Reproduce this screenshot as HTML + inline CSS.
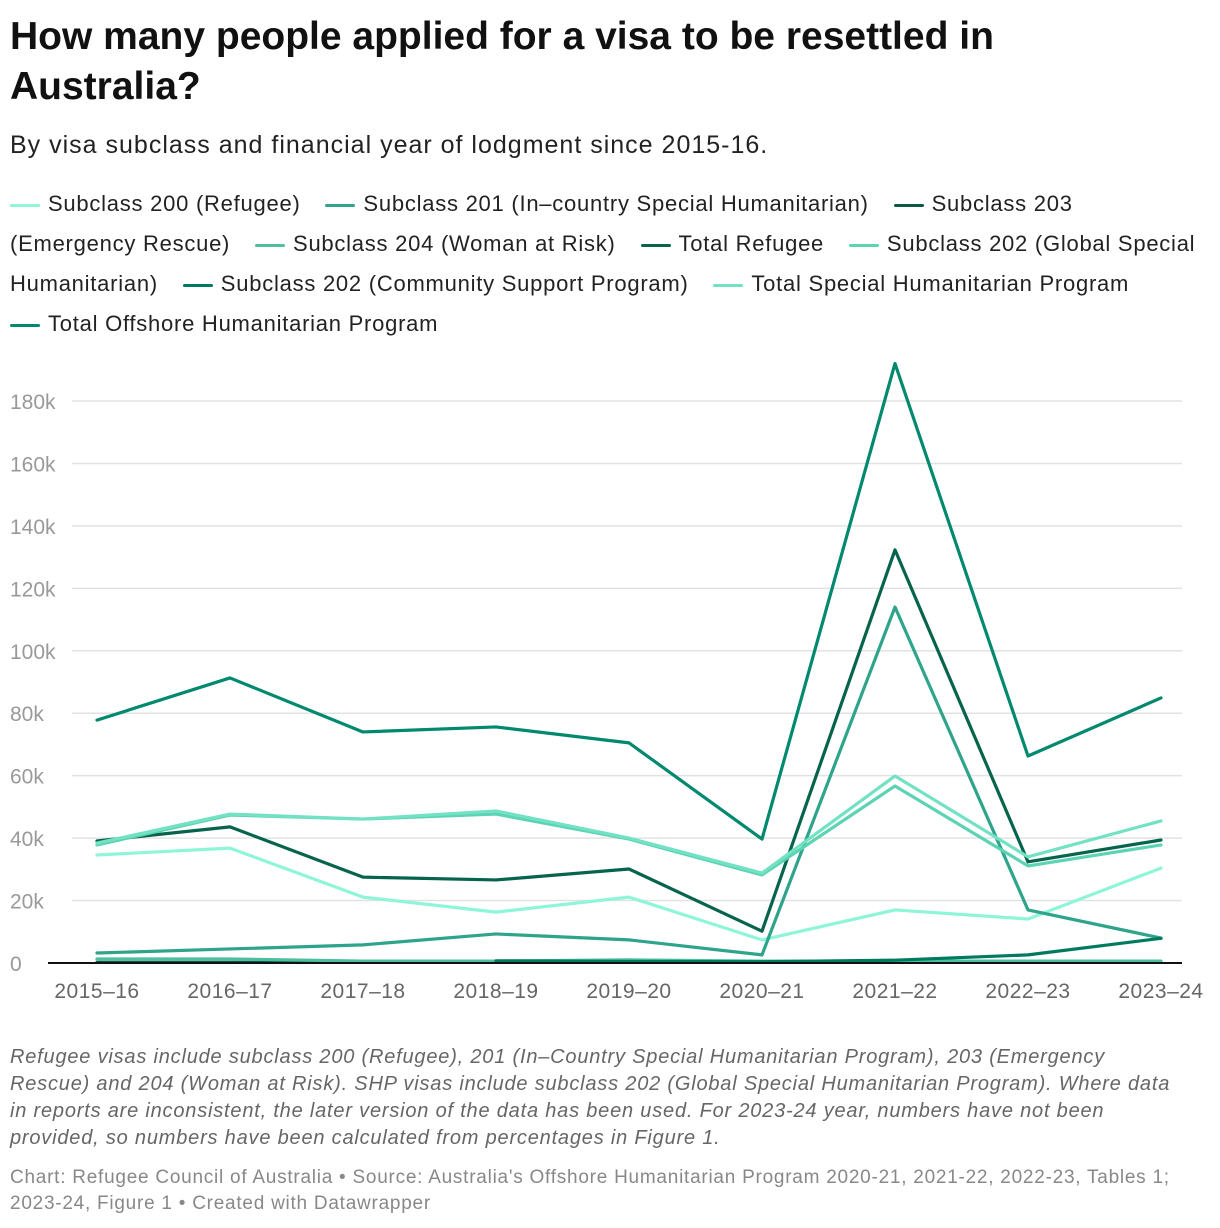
<!DOCTYPE html>
<html><head><meta charset="utf-8"><style>
body{margin:0;background:#fff;font-family:"Liberation Sans",sans-serif;color:#222;}
#wrap{position:relative;width:1220px;height:1228px;overflow:hidden}
h1{position:absolute;left:10px;top:12px;margin:0;font-size:39px;line-height:50px;font-weight:bold;color:#111;width:1080px;letter-spacing:0px}
.sub{position:absolute;left:10px;top:131px;font-size:25px;color:#222;letter-spacing:1px}
.legend{position:absolute;left:10px;top:184px;width:1190px;font-size:22px;line-height:40px;color:#222;letter-spacing:0.75px}
.li{display:inline;margin-right:18px}
.nw{white-space:nowrap}
.sw{display:inline-block;width:30px;height:3px;vertical-align:middle;margin-right:8px;border-radius:2px}
.note{position:absolute;left:10px;top:1044px;width:1180px;font-size:20px;line-height:27px;font-style:italic;color:#666;letter-spacing:0.8px}
.src{position:absolute;left:10px;top:1165px;width:1200px;font-size:19px;line-height:26px;color:#888;letter-spacing:0.75px}
</style></head><body><div id="wrap">
<h1>How many people applied for a visa to be resettled in Australia?</h1>
<div class="sub">By visa subclass and financial year of lodgment since 2015-16.</div>
<div class="legend" id="legend"></div>
<svg id="chart" width="1220" height="1228" style="position:absolute;left:0;top:0"></svg>
<div class="note">Refugee visas include subclass 200 (Refugee), 201 (In–Country Special Humanitarian Program), 203 (Emergency Rescue) and 204 (Woman at Risk). SHP visas include subclass 202 (Global Special Humanitarian Program). Where data in reports are inconsistent, the later version of the data has been used. For 2023-24 year, numbers have not been provided, so numbers have been calculated from percentages in Figure 1.</div>
<div class="src">Chart: Refugee Council of Australia • Source: Australia's Offshore Humanitarian Program 2020-21, 2021-22, 2022-23, Tables 1; 2023-24, Figure 1 • Created with Datawrapper</div>
</div>
<script>
const categories=["2015–16","2016–17","2017–18","2018–19","2019–20","2020–21","2021–22","2022–23","2023–24"];
const yTicks=[0,20,40,60,80,100,120,140,160,180];
const seriesNames=["Subclass 200 (Refugee)","Subclass 201 (In–country Special Humanitarian)","Subclass 203 (Emergency Rescue)","Subclass 204 (Woman at Risk)","Total Refugee","Subclass 202 (Global Special Humanitarian)","Subclass 202 (Community Support Program)","Total Special Humanitarian Program","Total Offshore Humanitarian Program"];
const seriesColors=["#8ef5d9","#2ea48a","#0b5a47","#4dbf9f","#06634c","#5cd3b3","#007a5e","#73e2c4","#00896e"];
const s200=[34.6,36.8,21.1,16.3,21.1,7.4,17,14.1,30.4];
const s201=[3.2,4.5,5.8,9.3,7.4,2.6,114,17,8];
const s203=[0.2,0.2,0.2,0.2,0.2,0.2,0.2,0.2,0.2];
const s204=[1.3,1.3,0.6,0.6,1,0.6,0.6,0.6,0.6];
const totalRefugee=[39.1,43.6,27.5,26.6,30.1,10.2,132.3,32.4,39.4];
const s202Global=[37.8,47.4,46.1,47.7,39.7,28.2,56.7,31.1,37.8];
const s202CSP=[null,null,null,0.7,0.5,0.4,0.9,2.6,7.9];
const totalSHP=[38.4,47.7,46.1,48.7,40,28.8,59.9,34,45.5];
const totalOffshore=[77.8,91.3,74,75.6,70.5,39.7,192,66.3,84.9];
const allSeries=[s200,s201,s203,s204,totalRefugee,s202Global,s202CSP,totalSHP,totalOffshore];
const NS="http://www.w3.org/2000/svg";
const svg=document.getElementById('chart');
const x0=97,x1=1161,y0=963,pxPerK=562/180;
const xs=i=>x0+i*(x1-x0)/(categories.length-1);
const ys=v=>y0-v*pxPerK;
function mk(t,a){const e=document.createElementNS(NS,t);for(const k in a)e.setAttribute(k,a[k]);svg.appendChild(e);return e;}
yTicks.forEach(t=>{
 if(t>0){const g=mk('line',{x1:72,x2:1182,y1:ys(t),y2:ys(t),stroke:'#e2e2e2','stroke-width':1.5});
 
 }
 const tx=mk('text',{x:10,y:ys(t)+8,'font-size':21,fill:'#999','font-family':'Liberation Sans, sans-serif'});
 tx.textContent=t===0?'0':t+'k';
 
 
});
categories.forEach((c,i)=>{
 const tx=mk('text',{x:xs(i),y:998,'font-size':21,fill:'#666','text-anchor':'middle','font-family':'Liberation Sans, sans-serif','letter-spacing':'0.5'});
 tx.textContent=c;
 
 
});
allSeries.forEach((s,k)=>{
 let d='';let started=false;
 s.forEach((v,i)=>{if(v==null){started=false;return;}d+=(started?'L':'M')+xs(i)+','+ys(v);started=true;});
 const p=mk('path',{d:d,fill:'none',stroke:seriesColors[k],'stroke-width':3.2,'stroke-linejoin':'round','stroke-linecap':'round'});
 
 
});
const ax=mk('line',{x1:48,x2:1182,y1:y0,y2:y0,stroke:'#111','stroke-width':2});


const lg=document.getElementById('legend');
seriesNames.forEach((n,k)=>{
 const sp=document.createElement('span');sp.className='li';
 
 
 const i=n.indexOf(' ');
 sp.innerHTML='<span class="nw"><span class="sw" style="background:'+seriesColors[k]+'"></span>'+n.slice(0,i)+'</span>'+n.slice(i);
 lg.appendChild(sp);lg.appendChild(document.createTextNode(' '));
});
</script></body></html>
